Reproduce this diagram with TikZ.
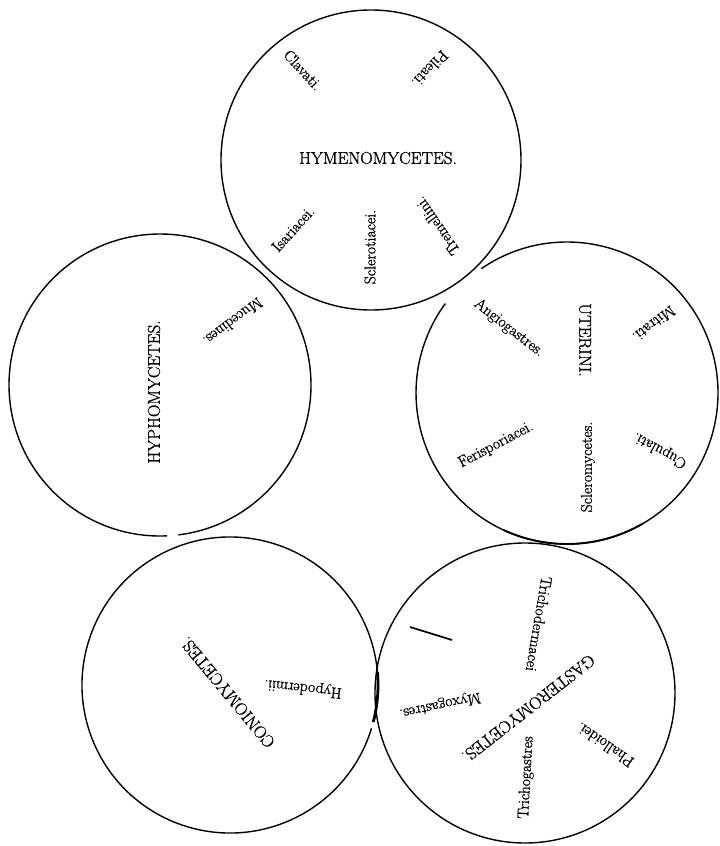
\documentclass[tikz,border=0pt]{standalone}
\usepackage{fontspec}
\newfontfamily\printfont{Latin Modern Roman}[FakeBold=1.2]
\begin{document}
\begin{tikzpicture}[x=1pt,y=-1pt,
  ring/.style={line width=1.4pt},
  thickring/.style={line width=2.8pt},
  lbl/.style={font=\printfont\fontsize{15.6}{18}\selectfont, inner sep=0pt},
  capslbl/.style={font=\printfont\fontsize{17.2}{20}\selectfont, inner sep=0pt}]
\useasboundingbox[fill=white] (0,0) rectangle (720,846);
% centres
\coordinate (c1) at (371,160);
\coordinate (c2) at (160,385);
\coordinate (c3) at (567,393);
\coordinate (c4) at (230,685);
\coordinate (c5) at (525,693);
% circles
\draw[ring] (c1) circle[radius=150];
\draw[ring] (c2) ++(87.3:151) arc[start angle=87.3, end angle=443, radius=151];
\draw[ring] (c3) ++(235.4:151) arc[start angle=235.4, end angle=576.3, radius=151];
\draw[line width=1.9pt] (c3) ++(60:151) arc[start angle=60, end angle=115, radius=151];
\draw[ring] (c4) ++(17:148) arc[start angle=17, end angle=355, radius=148];
\draw[thickring] (c4) ++(-5:148) arc[start angle=-5, end angle=14.5, radius=148];
\draw[ring] (c5) circle[radius=150];
\coordinate (s1) at (410,627);
\coordinate (s2) at (452,640);
\draw[line width=1.7pt] (s1) -- (s2);
% Hymenomycetes
\node[capslbl] (hym) at (378,158) {HYMENOMYCETES.};
\node[lbl, rotate=-47.5] (clav) at (303,70) {Clavati.};
\node[lbl, rotate=226] (pil) at (430,69) {Pileati.};
\node[lbl, rotate=48] (isa) at (293,229) {Isariacei.};
\node[lbl, rotate=90] (scl) at (370,247) {Sclerotiacei.};
\node[lbl, rotate=124.7] (tre) at (437,226) {Tremellini.};
% Hyphomycetes
\node[capslbl, rotate=90] (hyp) at (154,392) {HYPHOMYCETES.};
\node[lbl, rotate=216.9] (muc) at (233,322) {Mucedines.};
% Uterini
\node[capslbl, rotate=-90] (ute) at (585,340) {UTERINI.};
\node[lbl, rotate=217.3] (mit) at (654,324) {Mitrati.};
\node[lbl, rotate=-37.9] (ang) at (509,328) {Angiogastres.};
\node[lbl, rotate=27.9] (per) at (496,445) {Ferisporiacei.};
\node[lbl, rotate=90] (sclm) at (588,467) {Scleromycetes.};
\node[lbl, rotate=151] (cup) at (660,450) {Cupulati.};
% Coniomycetes
\node[capslbl, rotate=129.6] (con) at (227.5,692.5) {CONIOMYCETES.};
\node[lbl, rotate=173.7] (hypo) at (303,688) {Hypodermii.};
% Gasteromycetes
\node[capslbl, rotate=218] (gas) at (528.5,708.5) {GASTEROMYCETES.};
\node[lbl, rotate=-99.6] (tder) at (539,624) {Trichodermacei};
\node[lbl, rotate=192.2] (myx) at (440,705) {Myxogastres.};
\node[lbl, rotate=86.8] (tgas) at (526.5,777.5) {Trichogastres};
\node[lbl, rotate=145.3] (pha) at (605,745) {Phalloidei.};
\end{tikzpicture}
\end{document}
